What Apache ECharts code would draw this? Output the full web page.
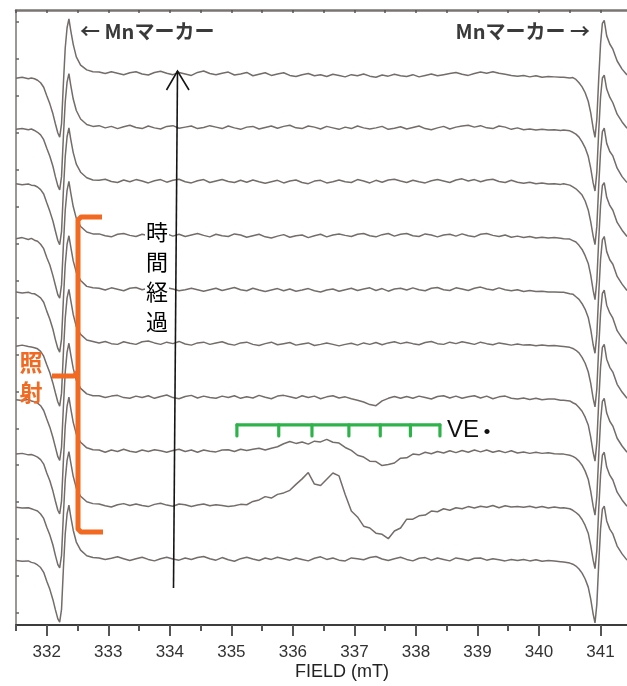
<!DOCTYPE html>
<html>
<head>
<meta charset="utf-8">
<script src="https://cdn.jsdelivr.net/npm/echarts@6/dist/echarts.min.js"></script>
<style>
  html, body { margin: 0; padding: 0; background: #ffffff; }
  #chart { width: 627px; height: 686px; }
</style>
</head>
<body>
<div id="chart"></div>
<script>
// ---- Field sampling (mT): dense around the two Mn marker lines, 0.1 mT elsewhere ----
const fieldsLeft = [331.5, 331.6, 331.7, 331.75, 331.8, 331.85, 331.9, 331.95, 332.0, 332.05,
  332.1, 332.14, 332.18, 332.21, 332.24, 332.27, 332.3, 332.33, 332.36, 332.39,
  332.43, 332.48, 332.55, 332.65, 332.75];
const fieldsMid = [];
for (let i = 0; i < 76; i++) fieldsMid.push(+(332.85 + 0.1 * i).toFixed(2));
const fieldsRight = [340.4, 340.5, 340.55, 340.6, 340.65, 340.7, 340.75, 340.8, 340.84, 340.88,
  340.91, 340.94, 340.97, 341.0, 341.03, 341.06, 341.1, 341.15, 341.2, 341.27, 341.35, 341.43];
const fields = fieldsLeft.concat(fieldsMid, fieldsRight);

// ---- ESR intensities (arb. units), spectrum01 = first recorded (bottom) ... spectrum10 = last (top) ----
const spectrum01 = [
  -0.4,-0.6,-0.5,-0.9,-1.1,-1.6,-2.3,-3.6,-6.0,-8.2,-11.0,-13.7,-16.2,-17.1,-13.6,-2.7,6.8,12.2,14.6,11.5,7.8,4.6,2.4,0.9,0.4,
  0.3,-0.1,0.2,0.6,0.1,-0.4,0.1,0.5,-0.1,-0.5,
  0.1,0.5,0.0,-0.3,0.3,-0.1,0.4,0.7,0.1,-0.3,
  0.4,-0.2,-0.6,0.1,0.5,0.0,-0.4,0.3,-0.1,0.5,
  0.1,-0.3,0.3,-0.1,-0.5,0.2,0.6,-0.1,0.3,-0.3,
  -0.5,0.3,0.1,-0.2,0.4,0.7,0.0,-0.4,0.1,0.5,
  -0.1,-0.5,0.2,0.4,-0.3,0.3,-0.1,-0.5,0.3,0.0,
  -0.4,0.2,0.3,-0.3,0.1,-0.2,-0.5,-0.1,-0.4,-0.1,
  -0.5,-0.2,-0.6,-0.4,-0.5,-0.7,
  -0.8,-1.1,-1.4,-1.9,-2.7,-3.8,-5.4,-7.6,-10.8,-14.9,-17.3,-12.2,-1.4,8.1,13.5,14.3,10.3,8.1,6.8,3.5,1.4,-0.3
];
const spectrum02 = [
  -0.6,-0.8,-0.7,-1.0,-1.3,-1.6,-2.4,-3.6,-6.0,-8.1,-10.8,-13.6,-16.1,-17.0,-13.6,-2.7,6.8,12.1,14.5,11.5,7.8,4.6,2.4,0.9,0.4,
  0.3,-0.2,-0.5,0.1,0.4,-0.1,0.3,-0.1,-0.4,0.2,
  0.5,0.0,-0.3,0.3,0.1,-0.4,0.0,0.3,-0.2,0.1,
  -0.1,-0.4,-0.2,0.2,0.1,1.0,1.4,2.3,1.9,2.9,
  3.3,4.0,5.6,7.1,8.8,5.7,5.3,7.0,8.7,7.9,
  2.9,-1.6,-3.2,-5.7,-6.2,-7.6,-7.9,-9.1,-7.0,-6.2,
  -3.8,-3.8,-2.9,-2.7,-1.6,-1.8,-1.0,-1.4,-0.7,-1.0,
  -0.4,-0.8,-0.3,-0.6,-0.1,-0.7,-0.2,-0.5,-0.4,-0.6,
  -0.3,-0.7,-0.4,-0.8,-0.5,-0.8,
  -0.7,-1.0,-1.4,-2.0,-2.7,-3.9,-5.5,-7.6,-10.9,-14.9,-17.2,-12.2,-1.3,8.1,13.5,14.3,10.3,8.1,6.8,3.5,1.4,-0.3
];
const spectrum03 = [
  -0.8,-0.6,-1.0,-0.9,-1.2,-1.6,-2.3,-3.5,-5.9,-8.0,-10.8,-13.5,-16.0,-17.0,-13.5,-2.7,6.8,12.2,14.6,11.5,7.8,4.6,2.4,0.9,0.4,
  0.3,-0.3,0.3,-0.1,0.5,0.0,-0.3,0.3,-0.1,0.4,
  0.1,-0.3,0.2,0.5,-0.1,0.3,-0.3,0.3,0.0,-0.2,
  0.3,0.4,-0.1,0.5,0.2,0.5,0.8,0.3,0.8,1.2,
  2.0,2.6,2.1,2.5,1.9,2.7,2.5,3.2,2.4,2.2,
  1.0,0.2,-1.1,-1.6,-2.7,-2.8,-3.9,-3.6,-3.2,-1.9,
  -1.8,-0.8,-1.0,-0.3,-0.7,-0.1,-0.5,0.1,-0.4,0.2,
  -0.3,0.3,-0.2,0.3,-0.3,0.1,-0.4,0.1,-0.5,-0.2,
  -0.6,-0.3,-0.6,-0.4,-0.7,-0.8,
  -0.8,-1.1,-1.4,-1.9,-2.7,-3.8,-5.4,-7.6,-10.8,-14.9,-17.3,-12.2,-1.4,8.1,13.5,14.3,10.3,8.1,6.8,3.5,1.4,-0.3
];
const spectrum04 = [
  -0.7,-0.9,-0.6,-1.0,-1.2,-1.6,-2.3,-3.6,-5.9,-8.1,-10.9,-13.5,-16.1,-17.1,-13.5,-2.7,6.8,12.2,14.6,11.5,7.8,4.6,2.4,0.9,0.4,
  0.4,-0.1,0.3,0.5,-0.1,-0.3,0.3,-0.1,0.4,-0.3,
  0.2,0.6,-0.1,-0.4,0.2,0.5,-0.2,0.3,-0.1,-0.3,
  0.3,-0.1,0.4,-0.3,0.1,-0.2,0.5,0.0,-0.4,0.3,
  0.5,0.1,-0.3,0.4,-0.1,0.3,-0.4,0.1,0.4,-0.2,
  0.1,-0.4,-0.8,-1.3,-2.0,-2.3,-1.0,-0.3,0.2,-0.3,
  0.2,-0.3,0.3,-0.1,-0.5,0.2,0.4,-0.2,0.3,-0.3,
  0.1,0.4,-0.2,0.3,-0.4,0.1,0.3,-0.3,-0.5,-0.2,
  -0.6,-0.3,-0.7,-0.5,-0.5,-0.8,
  -0.8,-1.0,-1.5,-1.9,-2.8,-3.8,-5.4,-7.5,-10.8,-14.9,-17.3,-12.2,-1.4,8.1,13.5,14.3,10.3,8.1,6.8,3.5,1.4,-0.3
];
const spectrum05 = [
  -0.8,-0.5,-0.9,-1.0,-1.2,-1.5,-2.2,-3.5,-5.8,-8.0,-10.8,-13.4,-15.9,-17.0,-13.5,-2.6,6.8,12.3,14.6,11.6,7.8,4.5,2.4,0.9,0.5,
  0.1,0.5,-0.1,-0.3,0.4,0.0,-0.3,0.4,0.6,0.1,
  -0.3,0.3,-0.1,0.5,-0.2,-0.5,0.1,0.3,-0.3,0.1,
  0.4,-0.2,-0.5,0.1,0.3,-0.3,-0.6,-0.1,0.3,-0.4,
  -0.1,0.2,-0.5,-0.2,0.1,-0.6,-0.3,0.1,-0.3,-0.7,
  -0.3,0.0,-0.5,0.1,-0.3,0.2,-0.4,0.1,0.4,-0.1,
  0.3,-0.1,-0.4,0.2,0.5,-0.1,-0.3,0.3,-0.1,0.4,
  0.1,-0.3,0.3,-0.1,-0.4,0.1,-0.2,-0.5,-0.2,-0.5,
  -0.4,-0.7,-0.5,-0.7,-0.6,-0.8,
  -0.9,-1.1,-1.4,-1.9,-2.6,-3.8,-5.4,-7.7,-10.8,-14.9,-17.2,-12.3,-1.3,8.1,13.5,14.4,10.3,8.2,6.8,3.4,1.4,-0.2
];
const spectrum06 = [
  -0.7,-1.0,-0.8,-1.1,-1.2,-1.7,-2.3,-3.5,-5.9,-8.1,-10.8,-13.6,-16.0,-17.0,-13.5,-2.8,6.7,12.2,14.5,11.5,7.7,4.6,2.4,0.8,0.4,
  0.3,-0.2,0.4,0.0,-0.4,0.3,0.5,-0.1,0.3,-0.3,
  0.0,0.4,0.1,-0.4,-0.1,0.3,-0.1,-0.5,-0.1,0.3,
  -0.3,0.1,0.5,-0.1,-0.4,0.3,-0.2,-0.6,-0.2,0.2,
  -0.4,0.1,-0.5,-0.2,0.2,-0.4,-0.7,-0.2,0.1,-0.5,
  -0.1,0.3,-0.3,0.1,0.4,-0.3,0.2,-0.5,0.1,0.3,
  -0.2,0.4,-0.1,-0.4,0.3,0.5,-0.1,-0.3,0.4,0.1,
  -0.3,0.3,0.6,0.1,-0.2,0.4,-0.1,-0.4,-0.1,-0.6,
  -0.3,-0.6,-0.5,-0.7,-0.7,-0.8,
  -0.8,-1.2,-1.3,-2.0,-2.7,-3.9,-5.4,-7.6,-10.8,-15.0,-17.3,-12.2,-1.4,8.0,13.4,14.3,10.2,8.0,6.8,3.5,1.4,-0.3
];
const spectrum07 = [
  -0.9,-0.6,-1.1,-0.8,-1.3,-1.6,-2.4,-3.6,-6.0,-8.0,-10.9,-13.5,-16.1,-17.0,-13.4,-2.7,6.8,12.2,14.6,11.5,7.8,4.6,2.4,0.9,0.4,
  0.4,-0.1,-0.4,0.3,0.5,0.0,-0.3,0.3,-0.1,-0.4,
  0.1,0.4,-0.2,0.3,-0.3,0.1,0.5,0.0,-0.4,0.3,
  -0.1,-0.3,0.4,0.1,-0.5,-0.1,0.3,-0.4,-0.7,-0.2,
  0.2,-0.5,-0.1,0.1,-0.6,-0.1,0.3,-0.4,0.1,0.4,
  0.0,-0.3,0.3,0.5,-0.1,-0.4,0.2,0.5,-0.2,0.3,
  0.5,-0.1,-0.3,0.4,0.1,-0.4,0.1,0.3,-0.2,0.4,
  -0.1,-0.4,0.3,0.5,0.0,-0.3,0.1,-0.5,-0.2,-0.6,
  -0.3,-0.7,-0.5,-0.7,-0.6,-0.8,
  -0.9,-1.0,-1.4,-1.8,-2.7,-3.8,-5.5,-7.6,-10.7,-14.9,-17.4,-12.2,-1.4,8.1,13.5,14.3,10.3,8.1,6.8,3.5,1.4,-0.3
];
const spectrum08 = [
  -0.6,-0.9,-0.7,-1.0,-1.1,-1.5,-2.2,-3.4,-5.8,-8.1,-10.7,-13.4,-16.0,-17.1,-13.6,-2.6,6.7,12.1,14.5,11.4,7.8,4.7,2.5,1.0,0.4,
  0.3,0.6,0.0,-0.3,0.4,-0.1,0.5,0.1,-0.4,0.2,
  0.5,-0.2,0.3,0.6,-0.1,-0.4,0.2,0.5,-0.3,0.1,
  0.5,0.0,-0.3,0.3,-0.2,0.4,-0.1,-0.5,-0.1,0.3,
  -0.4,0.1,0.4,-0.3,-0.6,0.1,0.3,-0.4,-0.1,0.4,
  -0.1,-0.3,0.5,0.1,-0.4,0.3,-0.2,0.4,0.6,0.1,
  -0.3,0.3,-0.1,-0.4,0.2,0.5,0.1,-0.3,0.4,0.7,
  0.1,0.5,-0.1,0.4,0.6,0.0,-0.3,0.3,-0.2,-0.5,
  -0.2,-0.6,-0.4,-0.7,-0.6,-0.8,
  -0.6,-1.0,-1.5,-2.0,-2.8,-3.7,-5.3,-7.7,-10.9,-14.8,-17.1,-12.1,-1.3,8.0,13.5,14.4,10.3,8.1,6.9,3.6,1.3,-0.3
];
const spectrum09 = [
  -0.5,-0.3,-0.6,-0.4,-0.8,-1.3,-2.0,-3.3,-5.6,-7.8,-10.5,-13.3,-15.8,-16.9,-13.3,-2.5,6.9,12.3,14.6,11.4,7.7,4.6,2.3,0.8,0.3,
  0.5,-0.1,0.3,-0.3,0.2,0.6,0.0,-0.3,0.4,-0.1,
  -0.4,0.3,0.5,-0.2,0.1,0.4,-0.3,0.0,0.5,0.1,
  -0.3,0.4,-0.1,-0.5,0.1,0.3,-0.4,0.0,0.4,-0.2,
  0.3,0.6,-0.1,-0.3,0.4,0.1,-0.4,0.3,-0.1,-0.5,
  0.1,-0.3,0.4,-0.1,-0.4,-0.1,0.3,-0.5,-0.2,0.2,
  -0.4,0.0,0.4,-0.3,-0.6,-0.1,0.3,-0.4,0.1,0.4,
  0.6,0.1,0.5,-0.1,-0.3,0.4,0.1,-0.5,-0.1,-0.6,
  -0.4,-0.7,-0.5,-0.7,-0.6,-0.8,
  -0.7,-0.9,-1.3,-1.8,-2.6,-3.9,-5.5,-7.8,-11.0,-15.0,-17.2,-12.0,-1.2,8.2,13.4,14.2,10.4,8.2,6.7,3.6,1.5,-0.2
];
const spectrum10 = [
  -1.3,-1.0,-1.4,-1.2,-1.4,-1.8,-2.5,-3.7,-6.0,-8.2,-10.9,-13.6,-16.1,-17.2,-13.6,-2.8,6.9,12.4,14.8,11.6,7.9,4.5,2.3,1.0,0.5,
  0.4,0.0,0.5,0.1,-0.3,0.2,0.5,-0.1,-0.4,0.3,
  0.6,0.1,-0.3,0.3,-0.1,-0.5,0.3,0.7,0.0,-0.3,
  0.1,0.4,-0.4,-0.1,0.3,-0.6,-0.2,0.2,-0.5,-0.1,
  0.2,-0.5,-0.8,-0.3,0.0,-0.6,-0.3,-0.8,-0.2,-0.5,
  -0.9,-0.3,-0.6,-0.1,-0.7,-1.0,-0.4,-0.7,-0.2,-0.6,
  -0.8,-0.3,-0.9,-0.5,-0.1,-0.6,-0.3,0.0,0.3,-0.2,
  -0.5,0.0,0.4,0.1,0.5,0.1,-0.2,-0.5,-0.7,-0.5,
  -0.9,-0.6,-1.0,-0.8,-0.9,-1.0,
  -1.0,-1.2,-1.1,-1.6,-2.5,-3.6,-5.2,-7.5,-10.6,-14.8,-17.3,-12.3,-1.5,8.0,13.6,14.4,10.2,8.0,6.6,3.4,1.2,-0.4
];
const spectra = [spectrum01, spectrum02, spectrum03, spectrum04, spectrum05,
                 spectrum06, spectrum07, spectrum08, spectrum09, spectrum10];

// Vertical spacing between successive spectra in the waterfall (arb. units)
const traceSpacing = 14.6;

// Hyperfine line positions of the VE· radical (mT)
const veLines = [335.09, 335.77, 336.31, 336.91, 337.42, 337.91, 338.39];

// Axis ticks
const fieldLabels = [332, 333, 334, 335, 336, 337, 338, 339, 340, 341];
const halfTicks = [331.5, 332.5, 333.5, 334.5, 335.5, 336.5, 337.5, 338.5, 339.5, 340.5];
const topTicks = [331.5, 332, 332.5, 333, 333.5, 334, 334.5, 335, 335.5, 336, 336.5,
                  337, 337.5, 338, 338.5, 339, 339.5, 340, 340.5, 341];
const intensityTicks = [0, 10, 20, 30, 40, 50, 60, 70, 80, 90, 100, 110, 120, 130, 140, 150, 160];

const X_MIN = 331.5, X_MAX = 341.43, Y_MIN = -3.25, Y_MAX = 163.2;

const chart = echarts.init(document.getElementById('chart'), null, { renderer: 'canvas' });

const traceColor = '#736c69';
const series = spectra.map((s, k) => ({
  type: 'line',
  xAxisIndex: 0,
  yAxisIndex: 0,
  symbol: 'none',
  showSymbol: false,
  silent: true,
  animation: false,
  lineStyle: { color: traceColor, width: 1.5 },
  data: fields.slice(0, s.length).map((f, i) => [f, +(s[i] + traceSpacing * (k + 1)).toFixed(2)])
}));

const latin = '"Liberation Sans", Arial, sans-serif';
const jp = '"Noto Sans CJK JP", "Noto Sans", sans-serif';

const option = {
  backgroundColor: '#ffffff',
  animation: false,
  grid: { left: 16, right: 0, top: 10, bottom: 61, containLabel: false, outerBoundsMode: 'none' },
  xAxis: [
    {
      type: 'value', position: 'bottom', min: X_MIN, max: X_MAX,
      axisLine: { show: true, onZero: false, lineStyle: { color: '#3c3c3c', width: 2 } },
      axisTick: { show: true, customValues: fieldLabels, length: 11, inside: false,
                  lineStyle: { color: '#555', width: 2 } },
      axisLabel: { show: true, customValues: fieldLabels, margin: 19,
                   fontSize: 17, color: '#333333', fontFamily: latin },
      splitLine: { show: false }
    },
    {
      type: 'value', position: 'bottom', min: X_MIN, max: X_MAX,
      axisLine: { show: false, onZero: false },
      axisTick: { show: true, customValues: halfTicks, length: 6, inside: false,
                  lineStyle: { color: '#555', width: 2 } },
      axisLabel: { show: false },
      splitLine: { show: false }
    },
    {
      type: 'value', position: 'top', min: X_MIN, max: X_MAX,
      axisLine: { show: true, onZero: false, lineStyle: { color: '#7a7472', width: 2.5 } },
      axisTick: { show: true, customValues: topTicks, length: 3, inside: true,
                  lineStyle: { color: '#555', width: 1.5 } },
      axisLabel: { show: false },
      splitLine: { show: false }
    }
  ],
  yAxis: [
    {
      type: 'value', min: Y_MIN, max: Y_MAX,
      axisLine: { show: true, onZero: false, lineStyle: { color: '#7a7472', width: 1.5 } },
      axisTick: { show: true, customValues: intensityTicks, length: 3, inside: true,
                  lineStyle: { color: '#666', width: 1.5 } },
      axisLabel: { show: false },
      splitLine: { show: false }
    }
  ],
  series: series
};

chart.setOption(option);

// Annotations placed in field / intensity coordinates
const px = (f, v) => chart.convertToPixel({ xAxisIndex: 0, yAxisIndex: 0 }, [f, v]);

const veBarY = 50.9, veTickY = 47.9;
const veGraphics = [];
{
  const a = px(veLines[0], veBarY), b = px(veLines[veLines.length - 1], veBarY);
  veGraphics.push({ type: 'line', shape: { x1: a[0], y1: a[1], x2: b[0], y2: b[1] },
    style: { stroke: '#2eb34b', lineWidth: 3.2, lineCap: 'round' }, z: 20 });
  veLines.forEach(f => {
    const p = px(f, veBarY), q = px(f, veTickY);
    veGraphics.push({ type: 'line', shape: { x1: p[0], y1: p[1], x2: q[0], y2: q[1] },
      style: { stroke: '#2eb34b', lineWidth: 3.2, lineCap: 'round' }, z: 20 });
  });
}

const orange = '#f26a22';
const graphics = [
  // time arrow
  { type: 'line', shape: { x1: 173.5, y1: 588, x2: 177.5, y2: 71 },
    style: { stroke: '#151515', lineWidth: 1.6 }, z: 15 },
  { type: 'polyline', shape: { points: [[166.5, 90], [177.5, 71], [189, 90]] },
    style: { stroke: '#151515', lineWidth: 1.6, fill: null }, z: 15 },
  // Mn marker labels
  { type: 'text', left: 80, top: 21, z: 20,
    style: { text: '← Mnマーカー', font: 'bold 20px ' + jp, fill: '#3a3a3a' } },
  { type: 'text', right: 37, top: 21, z: 20,
    style: { text: 'Mnマーカー →', font: 'bold 20px ' + jp, fill: '#3a3a3a' } },
  // elapsed-time label
  { type: 'text', x: 157, y: 277, z: 20,
    style: { text: '時\n間\n経\n過', font: '22px ' + jp, fill: '#000000',
             align: 'center', verticalAlign: 'middle', lineHeight: 30,
             backgroundColor: '#ffffff', padding: [1, 1] } },
  // irradiation bracket
  { type: 'polyline', z: 18,
    shape: { points: [[102, 217], [81, 217], [78, 220], [78, 529], [81, 532], [103, 532]] },
    style: { stroke: orange, lineWidth: 5, fill: null, lineJoin: 'round', lineCap: 'butt' } },
  { type: 'polyline', z: 18,
    shape: { points: [[52, 376], [74, 376], [78, 372]] },
    style: { stroke: orange, lineWidth: 5, fill: null, lineJoin: 'round' } },
  { type: 'text', x: 31, y: 377, z: 20,
    style: { text: '照\n射', font: 'bold 23px ' + jp, fill: orange,
             align: 'center', verticalAlign: 'middle', lineHeight: 30 } },
  // VE radical label
  { type: 'text', left: 447, top: 418, z: 20,
    style: { text: 'VE', font: '24px ' + latin, fill: '#111111' } },
  { type: 'text', x: 487, y: 431, z: 20,
    style: { text: '・', font: 'bold 20px ' + jp, fill: '#111111',
             align: 'center', verticalAlign: 'middle' } },
  // axis name
  { type: 'text', x: 342, y: 672, z: 20,
    style: { text: 'FIELD (mT)', font: '18px ' + latin, fill: '#222222',
             align: 'center', verticalAlign: 'middle' } }
].concat(veGraphics);

chart.setOption({ graphic: graphics });
</script>
</body>
</html>
